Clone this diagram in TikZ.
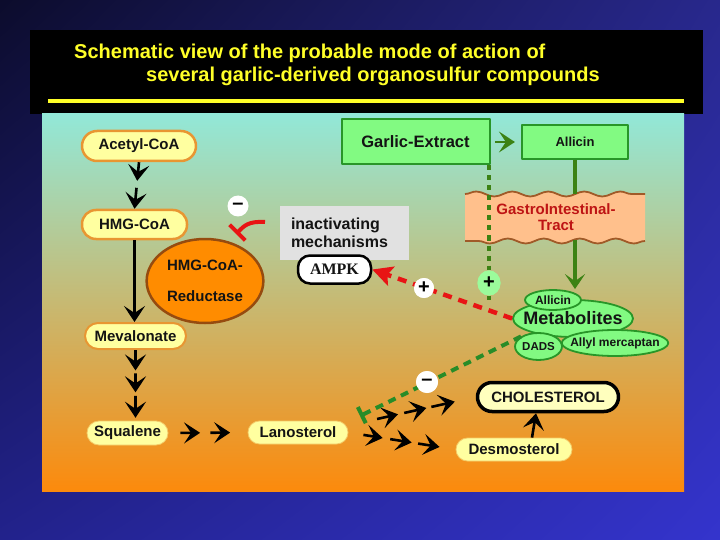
\documentclass[tikz,border=0pt]{standalone}
\usepackage{fontspec}
\setmainfont{Liberation Sans}
\newfontfamily\titlefont{Liberation Sans}
\newfontfamily\ampkfont{Liberation Serif}
\usetikzlibrary{arrows.meta,positioning,calc,shapes.geometric,shadings,decorations.pathmorphing}

\definecolor{bgdark}{RGB}{12,12,44}
\definecolor{bgtopr}{RGB}{40,40,140}
\definecolor{bglowl}{RGB}{34,34,140}
\definecolor{bgblue}{RGB}{52,52,205}
\definecolor{paneltop}{RGB}{146,232,216}
\definecolor{panelmid}{RGB}{204,178,110}
\definecolor{panelbot}{RGB}{252,138,12}
\definecolor{pillfill}{RGB}{255,255,160}
\definecolor{pilledge}{RGB}{232,150,50}
\definecolor{cholfill}{RGB}{255,255,190}
\definecolor{garlicfill}{RGB}{130,250,130}
\definecolor{garlicedge}{RGB}{40,150,40}
\definecolor{darkgreen}{RGB}{60,130,20}
\definecolor{dashgreen}{RGB}{40,140,40}
\definecolor{reductfill}{RGB}{255,140,0}
\definecolor{reductedge}{RGB}{150,75,15}
\definecolor{gifill}{RGB}{255,192,140}
\definecolor{giedge}{RGB}{160,90,40}
\definecolor{gitext}{RGB}{190,20,20}
\definecolor{inhred}{RGB}{232,20,20}
\definecolor{inactgray}{RGB}{225,225,225}
\definecolor{titleyellow}{RGB}{255,255,40}
\definecolor{textdark}{RGB}{20,20,20}

\begin{document}
\begin{tikzpicture}[x=1pt,y=-1pt,line join=round,
  pill/.style={rectangle, fill=pillfill, draw=pilledge, line width=2.5pt, inner sep=0pt,
    font=\fontsize{15}{17}\selectfont\bfseries, text=textdark},
  softpill/.style={pill, draw=pillfill!50!pilledge, line width=0.8pt},
  greenbox/.style={rectangle, fill=garlicfill, draw=garlicedge, line width=2pt, inner sep=0pt, text=textdark},
  blob/.style={ellipse, fill=garlicfill, draw=garlicedge, line width=1.8pt, inner sep=0pt,
    font=\fontsize{12}{14}\selectfont\bfseries, text=textdark},
  sign/.style={circle, fill=white, inner sep=0pt, minimum size=21pt,
    font=\fontsize{20}{20}\selectfont\bfseries},
  chev/.style={line width=2.6pt, -{Stealth[length=16pt,width=21pt,inset=7pt]}},
  greenchev/.style={chev, draw=darkgreen},
]
\useasboundingbox (0,0) rectangle (720,540);
% background, title bar and panel
\shade[upper left=bgdark, upper right=bgtopr, lower left=bglowl, lower right=bgblue] (0,0) rectangle (720,540);
\fill[black] (30,30) rectangle (703,114);
\node[anchor=base west, inner sep=0pt, text=titleyellow, font=\titlefont\fontsize{20}{22}\selectfont\bfseries] (title1) at (74,59) {Schematic view of the probable mode of action of};
\node[anchor=base west, inner sep=0pt, text=titleyellow, font=\titlefont\fontsize{20}{22}\selectfont\bfseries] (title2) at (146,82) {several garlic-derived organosulfur compounds};
\draw[titleyellow, line width=4pt] (48,101) -- (684,101);
\shade[top color=paneltop, middle color=panelmid, bottom color=panelbot] (42,114) rectangle (684,491);

% wavy gastrointestinal tract
\fill[gifill] (465,194) decorate[decoration={snake,amplitude=2.5pt,segment length=36pt}]{-- (645,194)}
  -- (645,241) decorate[decoration={snake,amplitude=2.5pt,segment length=36pt}]{-- (465,241)} -- cycle;
\draw[giedge, line width=1.8pt, decorate, decoration={snake,amplitude=2.5pt,segment length=36pt}] (465,194) -- (645,194);
\draw[giedge, line width=1.8pt, decorate, decoration={snake,amplitude=2.5pt,segment length=36pt}] (645,241) -- (465,241);

% pathway
\node[pill, minimum width=114pt, minimum height=30pt, rounded corners=15pt] (acetyl) at (139,146) {Acetyl-CoA};
\node[pill, minimum width=105pt, minimum height=29pt, rounded corners=14pt] (hmg) at (134.5,224.5) {HMG-CoA};
\node[pill, line width=2pt, minimum width=101pt, minimum height=26pt, rounded corners=13pt] (mev) at (135.5,336) {Mevalonate};
\node[softpill, minimum width=81pt, minimum height=24pt, rounded corners=12pt] (squal) at (127.5,433) {Squalene};
\node[softpill, minimum width=100pt, minimum height=23pt, rounded corners=11.5pt] (lano) at (298,432.5) {Lanosterol};
\node[softpill, minimum width=116pt, minimum height=23pt, rounded corners=11.5pt] (desmo) at (514,449.5) {Desmosterol};
\node[pill, fill=cholfill, draw=black, line width=3.5pt, minimum width=141pt, minimum height=29pt, rounded corners=14.5pt] (chol) at (548,397) {CHOLESTEROL};
\node[ellipse, fill=reductfill, draw=reductedge, line width=2.5pt, minimum width=111pt, minimum height=84pt,
  align=center, font=\fontsize{15}{17}\selectfont\bfseries, text=textdark] (reduct) at (205,281) {HMG-CoA-\\[14pt]Reductase};

\node[fill=inactgray, text width=107pt, inner xsep=11pt, minimum height=54pt, align=left,
  font=\fontsize{16}{18}\selectfont\bfseries, text=textdark] (inact) at (344.5,233) {inactivating\\mechanisms};
\node[draw=black, fill=white, line width=2.5pt, rounded corners=12pt, minimum width=73pt, minimum height=28pt,
  inner sep=0pt, font=\ampkfont\fontsize{16}{18}\selectfont\bfseries, text=textdark] (ampk) at (334.5,269.5) {AMPK};

% garlic side
\node[greenbox, minimum width=148pt, minimum height=45pt, font=\fontsize{16.5}{18}\selectfont\bfseries] (garlic) at (415.5,142) {Garlic-Extract};
\node[greenbox, minimum width=106pt, minimum height=34pt, font=\fontsize{13}{15}\selectfont\bfseries] (allicin) at (575,142) {Allicin};
\node[minimum width=180pt, minimum height=46pt, align=center, text=gitext,
  font=\fontsize{15}{16}\selectfont\bfseries] (gi) at (556,217) {GastroIntestinal-\\Tract};

\node[blob, inner xsep=-12pt, minimum width=120pt, minimum height=37pt, font=\fontsize{18}{20}\selectfont\bfseries] (metab) at (573,318.5) {Metabolites};
\node[blob, minimum width=56pt, minimum height=20pt] (allic) at (553,300) {Allicin};
\node[blob, minimum width=47pt, minimum height=27pt, font=\fontsize{11.5}{13}\selectfont\bfseries] (dads) at (538.5,346.5) {DADS};
\node[blob, inner xsep=-7pt, minimum width=106pt, minimum height=26pt] (allyl) at (615,343) {Allyl mercaptan};

% signs
\node[sign] (minusA) at (238,206) {--};
\node[sign, minimum size=20pt] (plusR) at (424,288) {+};
\node[sign, ellipse, fill=garlicfill!80!white, minimum width=23pt, minimum height=25pt] (plusG) at (489,283) {+};
\node[sign, minimum size=22pt] (minusB) at (427,382) {--};

\coordinate (inhstart) at (265,222);
\coordinate (inhend) at (236,234);
\coordinate (teeend) at (360,416);
\coordinate (dotend) at (489,300);

% chevron steps
\foreach \a/\b in {0/0.4,0.55/1}
  \draw[chev] ($(acetyl.south)!\a!(hmg.north)$) -- ($(acetyl.south)!\b!(hmg.north)$);
\draw[chev] (hmg.south) -- (hmg.south |- mev.north);
\foreach \a/\b in {0/0.29,0.33/0.6,0.65/0.96}
  \draw[chev] ($(mev.south)!\a!(mev.south |- squal.north)$) -- ($(mev.south)!\b!(mev.south |- squal.north)$);
\foreach \a/\b in {0.15/0.4,0.53/0.78}
  \draw[chev] ($(squal.east)!\a!(lano.west)$) -- ($(squal.east)!\b!(lano.west)$);
\foreach \a/\b in {0.2/0.37,0.42/0.6,0.64/0.83}
  \draw[chev] ($($(lano.east)+(4,-8)$)!\a!(chol.west)$) -- ($($(lano.east)+(4,-8)$)!\b!(chol.west)$);
\foreach \a/\b in {0.14/0.32,0.39/0.59,0.65/0.85}
  \draw[chev] ($(lano.east)!\a!(desmo.west)$) -- ($(lano.east)!\b!(desmo.west)$);
\draw[chev] ([xshift=18pt]desmo.north) -- ([xshift=-12pt]chol.south);

% garlic routes
\draw[greenchev] ($(garlic.east)!0.15!(allicin.west)$) -- ($(garlic.east)!0.8!(allicin.west)$);
\draw[darkgreen, line width=4pt] (allicin.south) -- (allicin.south |- gi.north);
\draw[darkgreen, line width=4pt, -{Stealth[length=15pt,width=20pt,inset=7pt]}] (allicin.south |- gi.south) -- (allicin.south |- allic.north);
\draw[darkgreen, line width=3.5pt, dash pattern=on 5pt off 5pt] (garlic.south -| plusG) -- (plusG.north);
\draw[darkgreen, line width=3.5pt, dash pattern=on 5pt off 5pt] (plusG.south) -- (dotend);
\node[sign, ellipse, fill=garlicfill!80!white, minimum width=23pt, minimum height=25pt] at (plusG) {+};

% effects
\draw[inhred, line width=4.5pt, dash pattern=on 9pt off 7pt, -{Stealth[length=20pt,width=20pt,inset=4pt]}] (metab.west) -- (ampk.east);
\node[sign, minimum size=20pt] at (plusR) {+};
\draw[dashgreen, line width=4pt, dash pattern=on 8pt off 6pt, -{Bar[width=18pt]}] (dads.150) -- (teeend);
\node[sign, minimum size=22pt] at (minusB) {--};
\draw[inhred, line width=4pt, -{Bar[width=22pt]}] (inhstart) .. controls (248,221) and (244,226) .. (inhend);
\end{tikzpicture}
\end{document}
